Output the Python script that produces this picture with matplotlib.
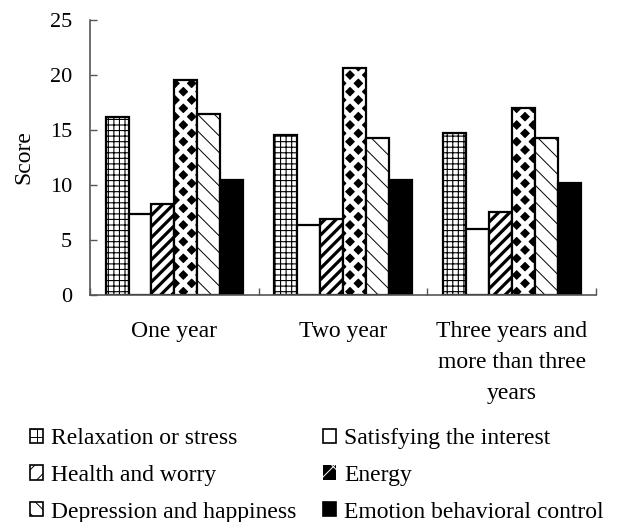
import numpy as np
import matplotlib
matplotlib.use("Agg")
import matplotlib.pyplot as plt
from matplotlib.patches import Patch

plt.rcParams['font.family'] = ['Liberation Serif', 'DejaVu Serif']

# data
groups = ['One year', 'Two year', 'Three years and\nmore than three\nyears']
series = ['Relaxation or stress', 'Satisfying the interest', 'Health and worry',
          'Energy', 'Depression and happiness', 'Emotion behavioral control']
relaxation = [16.2, 14.5, 14.7]
satisfying = [7.4, 6.4, 6.0]
health = [8.3, 6.9, 7.5]
energy = [19.5, 20.6, 17.0]
depression = [16.4, 14.3, 14.3]
emotion = [10.4, 10.4, 10.2]

fig = plt.figure(figsize=(6.17, 5.22), dpi=100)
ax = fig.add_axes([0.146, 0.435, 0.820, 0.527])

fs = 17
x = np.arange(len(groups))
w = 0.136
offs = (np.arange(6) - 2.5) * w
lw = 1.6
handles = []

# Relaxation: fine grid
plt.rcParams['hatch.linewidth'] = 0.8
ax.bar(x + offs[0], relaxation, w, facecolor='white', edgecolor='black', hatch='+++', linewidth=lw)
handles.append(Patch(facecolor='white', edgecolor='black', hatch='++', linewidth=1.2))

# Satisfying: plain white
ax.bar(x + offs[1], satisfying, w, facecolor='white', edgecolor='black', linewidth=lw)
handles.append(Patch(facecolor='white', edgecolor='black', linewidth=1.2))

# Health: thick diagonal
plt.rcParams['hatch.linewidth'] = 2.3
ax.bar(x + offs[2], health, w, facecolor='white', edgecolor='black', hatch='///', linewidth=lw)
handles.append(Patch(facecolor='white', edgecolor='black', hatch='//', linewidth=1.2))

# Energy: black diamonds on white (white crossing hatch on black)
plt.rcParams['hatch.linewidth'] = 3.4
ax.bar(x + offs[3], energy, w, facecolor='black', edgecolor='white', hatch='xx', linewidth=0)
handles.append(Patch(facecolor='black', edgecolor='white', hatch='x', linewidth=0))
ax.bar(x + offs[3], energy, w, facecolor='none', edgecolor='black', linewidth=lw)

# Depression: thin wavy-looking pattern
plt.rcParams['hatch.linewidth'] = 0.7
ax.bar(x + offs[4], depression, w, facecolor='white', edgecolor='black', hatch='\\\\', linewidth=lw)
handles.append(Patch(facecolor='white', edgecolor='black', hatch='\\\\', linewidth=1.2))

# Emotion: solid black
ax.bar(x + offs[5], emotion, w, facecolor='black', edgecolor='black', linewidth=lw)
handles.append(Patch(facecolor='black', edgecolor='black', linewidth=1.2))

ax.set_xlim(-0.5, len(groups) - 0.5)
ax.set_ylim(0, 25)
ax.set_yticks(np.arange(0, 26, 5))
ax.set_xticks(x)
ax.set_xticklabels(groups, fontsize=fs, linespacing=1.63)
ax.set_xticks(np.arange(len(groups) + 1) - 0.5, minor=True)
ax.tick_params(axis='x', which='major', length=0, pad=19)
ax.tick_params(axis='x', which='minor', length=5, direction='in', width=1, color='#555555')
ax.tick_params(axis='y', length=5, direction='in', width=1, color='#555555', labelsize=16, pad=13)
ax.set_ylabel('Score', fontsize=fs, labelpad=11)
for s in ['top', 'right']:
    ax.spines[s].set_visible(False)
for s in ['left', 'bottom']:
    ax.spines[s].set_color('#555555')
    ax.spines[s].set_linewidth(1.2)

# legend filled row-wise in the reference
order = [0, 2, 4, 1, 3, 5]
fig.legend([handles[i] for i in order], [series[i] for i in order], ncol=2,
           loc='upper left', bbox_to_anchor=(0.048, 0.180), borderpad=0, borderaxespad=0,
           frameon=False, fontsize=fs, handlelength=0.55, handleheight=0.55,
           handletextpad=0.34, columnspacing=1.15, labelspacing=0.67)

fig.savefig('out.png', dpi=100)
